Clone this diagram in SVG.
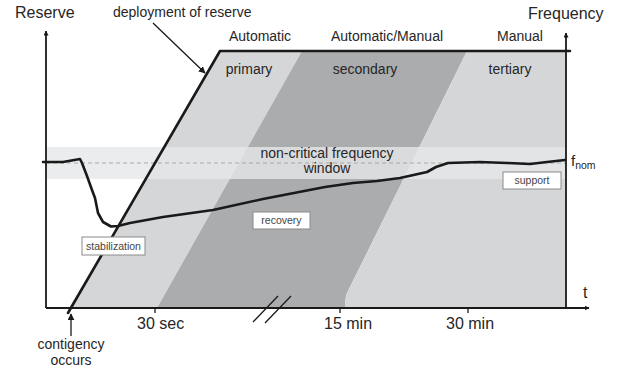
<svg xmlns="http://www.w3.org/2000/svg" width="625" height="367" viewBox="0 0 625 367">
<defs>
<style>
text{font-family:"Liberation Sans",Arial,sans-serif;fill:#262626}
.big{font-size:16px}
.mid{font-size:14px}
.small{font-size:10.5px;fill:#444}
.box{fill:#fff;stroke:#8a8a8a;stroke-width:1}
.axis{stroke:#1a1a1a;stroke-width:1.8;fill:none}
.thick{stroke:#1a1a1a;stroke-width:2.6;fill:none;stroke-linejoin:round;stroke-linecap:round}
.thin{stroke:#1a1a1a;stroke-width:1.3;fill:none}
</style>
<marker id="ah" viewBox="0 0 10 10" refX="9" refY="5" markerWidth="5" markerHeight="5" orient="auto-start-reverse" markerUnits="userSpaceOnUse">
<path d="M0,0 L10,5 L0,10 z" fill="#1a1a1a"/>
</marker>
<marker id="ah2" viewBox="0 0 10 10" refX="9" refY="5" markerWidth="7" markerHeight="7" orient="auto" markerUnits="userSpaceOnUse">
<path d="M0,0 L10,5 L0,10 z" fill="#1a1a1a"/>
</marker>
</defs>
<rect width="625" height="367" fill="#fff"/>

<g id="regions">
<polygon points="69,308 220,51 302,51 157,308" fill="#d5d6d8"/>
<path d="M302,51 L467,51 L347,293 Q345,298 345,308 L157,308 Z" fill="#aaacae"/>
<path d="M467,51 L566,51 L566,308 L345,308 Q345,298 347,293 Z" fill="#d5d6d8"/>
</g>

<g id="window">
<rect x="46" y="147" width="520" height="32" fill="#e6e7e8" opacity="0.8"/>
<line x1="46" y1="163" x2="566" y2="163" stroke="#9a9a9a" stroke-width="0.8" stroke-dasharray="4,3"/>
<text class="mid" x="327" y="158" text-anchor="middle" font-size="14.5">non-critical frequency</text>
<text class="mid" x="327" y="173" text-anchor="middle" font-size="14.5">window</text>
</g>

<g id="axes">
<line class="axis" x1="46" y1="308" x2="46" y2="31" marker-end="url(#ah)"/>
<line class="axis" x1="46" y1="308" x2="589" y2="308" marker-end="url(#ah)"/>
<line class="axis" x1="566" y1="308" x2="566" y2="33" marker-end="url(#ah)"/>
<line class="thin" x1="155" y1="308" x2="155" y2="313"/>
<line class="thin" x1="340" y1="308" x2="340" y2="313"/>
<line class="thin" x1="468" y1="308" x2="468" y2="313"/>
<line class="thin" x1="253" y1="322" x2="278" y2="296"/>
<line class="thin" x1="265" y1="323" x2="291" y2="296"/>
</g>

<g id="deployment">
<polyline class="thick" points="68,313 220,51 570,51"/>
</g>

<g id="frequency-curve">
<polyline class="thick" points="43,162 63,162 80,159 82,163 87,176 92,190 95,198 98,213 103,222 111,226.5 118,226 130,223 163,217 213,210 263,199 325,187 353,183 377,181 400,178 427,172 436,167 448,163 480,162 507,163 530,164 547,162 565,160"/>
</g>

<g id="connectors">
<line class="thin" x1="153" y1="23" x2="205" y2="73" marker-end="url(#ah2)"/>
<line class="thin" x1="71" y1="336" x2="71" y2="314" stroke-width="1.8" marker-end="url(#ah2)"/>
</g>

<g id="axis-labels">
<text class="big" x="15" y="18">Reserve</text>
<text class="big" x="528" y="19">Frequency</text>
<text class="mid" x="113" y="17">deployment of reserve</text>
<text class="big" x="583" y="298" font-size="15">t</text>
<text x="571" y="166" font-size="15">f<tspan font-size="10.5" dy="3">nom</tspan></text>
<text class="big" x="137" y="329">30 sec</text>
<text class="big" x="324" y="329">15 min</text>
<text class="big" x="446" y="329">30 min</text>
<text class="mid" x="71" y="349" text-anchor="middle" font-size="13.5">contigency</text>
<text class="mid" x="71" y="365" text-anchor="middle" font-size="13.5">occurs</text>
</g>

<g id="control-labels">
<text class="mid" x="260" y="41" text-anchor="middle">Automatic</text>
<text class="mid" x="387" y="41" text-anchor="middle" font-size="13.5">Automatic/Manual</text>
<text class="mid" x="520" y="41" text-anchor="middle">Manual</text>
<text class="mid" x="249" y="74" text-anchor="middle">primary</text>
<text class="mid" x="365" y="74" text-anchor="middle">secondary</text>
<text class="mid" x="510" y="74" text-anchor="middle">tertiary</text>
</g>

<g id="stabilization">
<rect class="box" x="82" y="237" width="63" height="18"/>
<text class="small" x="113.5" y="249.5" text-anchor="middle">stabilization</text>
</g>
<g id="recovery">
<rect class="box" x="253" y="212" width="57" height="17"/>
<text class="small" x="281.5" y="224" text-anchor="middle">recovery</text>
</g>
<g id="support">
<rect class="box" x="503" y="172" width="58" height="17"/>
<text class="small" x="532" y="184" text-anchor="middle">support</text>
</g>
</svg>
